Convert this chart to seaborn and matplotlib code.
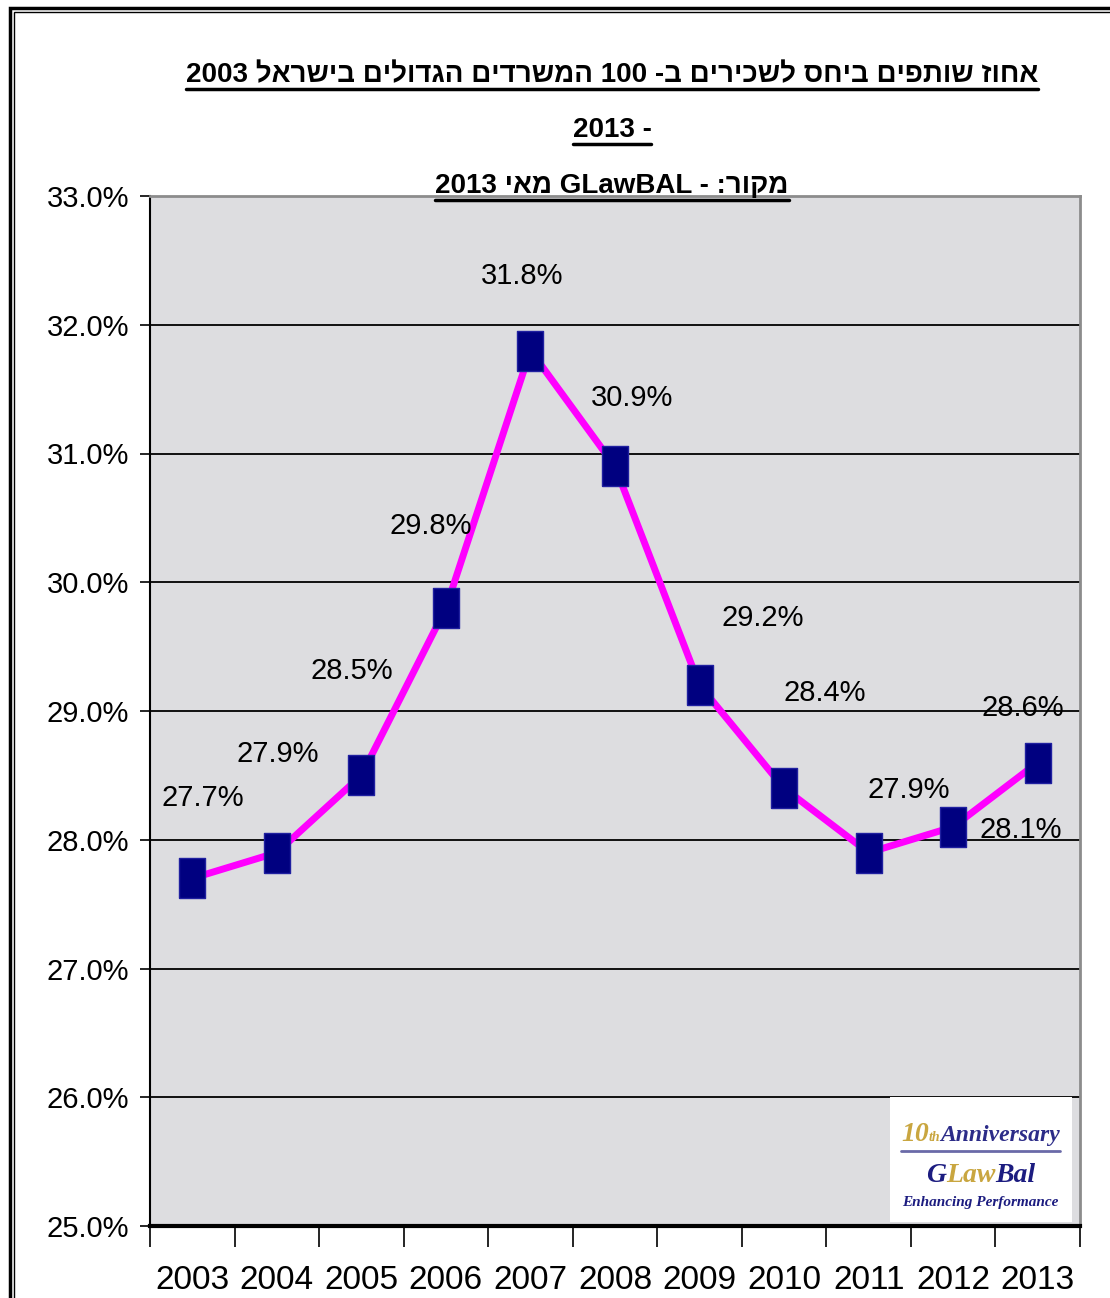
import matplotlib
matplotlib.use('Agg')
import matplotlib.pyplot as plt
import seaborn as sns
import pandas as pd
from matplotlib import font_manager
from matplotlib.patches import Rectangle
from matplotlib.lines import Line2D
from matplotlib.ticker import FixedLocator, StrMethodFormatter

# data
years = ['2003', '2004', '2005', '2006', '2007', '2008', '2009', '2010', '2011', '2012', '2013']
share = [27.7, 27.9, 28.5, 29.8, 31.8, 30.9, 29.2, 28.4, 27.9, 28.1, 28.6]
y_ticks = [25, 26, 27, 28, 29, 30, 31, 32, 33]
title_lines = ['אחוז שותפים ביחס לשכירים ב- 100 המשרדים הגדולים בישראל 2003',
               '- 2013',
               'מקור: - GLawBAL מאי 2013']

# where each value label sits relative to its point (pixels)
label_offsets = [(11, 80), (1, 99), (-10, 104), (-15, 82), (-8, 75), (17, 68),
                 (63, 67), (41, 95), (40, 63), (68, -3), (-15, 55)]


def visual(s):
    # matplotlib has no bidi, so put the Hebrew into display order
    out = []
    for tok in reversed(s.split(' ')):
        if any('\u0590' <= c <= '\u05ff' for c in tok):
            tok = tok[::-1]
        out.append(tok)
    return ' '.join(out)


sns.set_style('white')
names = {f.name for f in font_manager.fontManager.ttflist}
narrow = 'Liberation Sans Narrow' in names
fam = ['Liberation Sans Narrow', 'Liberation Sans', 'DejaVu Sans'] if narrow else ['Liberation Sans', 'DejaVu Sans']
plt.rcParams['font.family'] = fam
plt.rcParams['text.color'] = 'black'
plt.rcParams['xtick.color'] = 'black'
plt.rcParams['ytick.color'] = 'black'
fs = 25 if narrow else 21

df = pd.DataFrame({'year': years, 'share': share})

W, H = 1110, 1298
fig = plt.figure(figsize=(W / 100, H / 100), dpi=100)
ax = fig.add_axes([150 / W, 1 - 1226 / H, 930 / W, 1030 / H])
ax.set_facecolor('#dddde0')

tall_square = [(-0.66, -1), (0.66, -1), (0.66, 1), (-0.66, 1), (-0.66, -1)]
sns.lineplot(data=df, x='year', y='share', ax=ax, color='#ff00ff', linewidth=5,
             marker=tall_square, markersize=29, markerfacecolor='#000080',
             markeredgecolor='#2020a0', markeredgewidth=1, sort=False, zorder=5)

ax.set_xlim(-0.5, len(years) - 0.5)
ax.set_ylim(25, 33)
ax.yaxis.set_major_locator(FixedLocator(y_ticks))
ax.yaxis.set_major_formatter(StrMethodFormatter('{x:.1f}%'))
ax.xaxis.set_minor_locator(FixedLocator([i - 0.5 for i in range(len(years) + 1)]))
ax.grid(axis='y', color='black', linewidth=1.3)
ax.grid(axis='x', visible=False)
ax.set_xlabel('')
ax.set_ylabel('')

ax.tick_params(axis='y', which='major', left=True, length=7, width=1.2, color='black',
               pad=8, labelsize=fs, labelcolor='black')
ax.tick_params(axis='x', which='major', bottom=True, length=0, pad=28, labelsize=fs + 3,
               labelcolor='black')
ax.tick_params(axis='x', which='minor', bottom=True, length=15, width=1.2, color='black')

for side in ['top', 'right']:
    ax.spines[side].set_color('#8c8c8c')
    ax.spines[side].set_linewidth(2)
ax.spines['left'].set_color('black')
ax.spines['left'].set_linewidth(1.5)
ax.spines['bottom'].set_color('black')
ax.spines['bottom'].set_linewidth(3)

for i, (yr, v) in enumerate(zip(years, share)):
    ax.annotate(f'{v:.1f}%', xy=(i, v), xytext=label_offsets[i], textcoords='offset pixels',
                ha='center', va='center', fontsize=fs, color='black', zorder=6)

# logo box, lower right
ax.add_patch(Rectangle((0.796, 0.004), 0.195, 0.121, transform=ax.transAxes,
                       facecolor='white', edgecolor='none', zorder=7))
ax.add_line(Line2D([0.808, 0.978], [0.073, 0.073], transform=ax.transAxes,
                   color='#6a6aa8', linewidth=2, zorder=8))

renderer = fig.canvas.get_renderer()


def run(pieces, xc, y):
    # lay out a row of differently styled text pieces centred on xc
    texts = []
    for s, kw in pieces:
        t = ax.text(0, y, s, transform=ax.transAxes, va='baseline', ha='left', zorder=8, **kw)
        texts.append(t)
    widths = [t.get_window_extent(renderer).width / ax.bbox.width for t in texts]
    x = xc - sum(widths) / 2
    for t, w in zip(texts, widths):
        t.set_x(x)
        x += w


serif = dict(family=['Liberation Serif', 'DejaVu Serif'], fontweight='bold', style='italic')
run([('10', dict(color='#c9a640', fontsize=20, **serif)),
     ('th', dict(color='#c9a640', fontsize=10, **serif)),
     ('Anniversary', dict(color='#2c2c88', fontsize=17, **serif))], 0.893, 0.083)
run([('G', dict(color='#1c1c80', fontsize=20, **serif)),
     ('Law', dict(color='#c9a640', fontsize=20, **serif)),
     ('Bal', dict(color='#1c1c80', fontsize=20, **serif))], 0.893, 0.043)
run([('Enhancing Performance', dict(color='#1c1c80', fontsize=11, **serif))], 0.893, 0.019)

# title with underlines
title_y = [75, 130, 186]
for line, yp in zip(title_lines, title_y):
    t = fig.text(612 / W, 1 - yp / H, visual(line), ha='center', va='center',
                 fontsize=fs - 1, fontweight='bold', color='black')
    bb = t.get_window_extent(renderer)
    fig.add_artist(Line2D([bb.x0 / W, bb.x1 / W], [(bb.y0 - 1) / H, (bb.y0 - 1) / H],
                          transform=fig.transFigure, color='black', linewidth=2.5))

# outer double frame
fig.add_artist(Rectangle((10 / W, -0.05), 1.2, 1 - 8 / H + 0.05, transform=fig.transFigure,
                         fill=False, edgecolor='black', linewidth=2.5))
fig.add_artist(Rectangle((14 / W, -0.05), 1.2, 1 - 12 / H + 0.05, transform=fig.transFigure,
                         fill=False, edgecolor='black', linewidth=1))

fig.savefig('out.png', dpi=100)
